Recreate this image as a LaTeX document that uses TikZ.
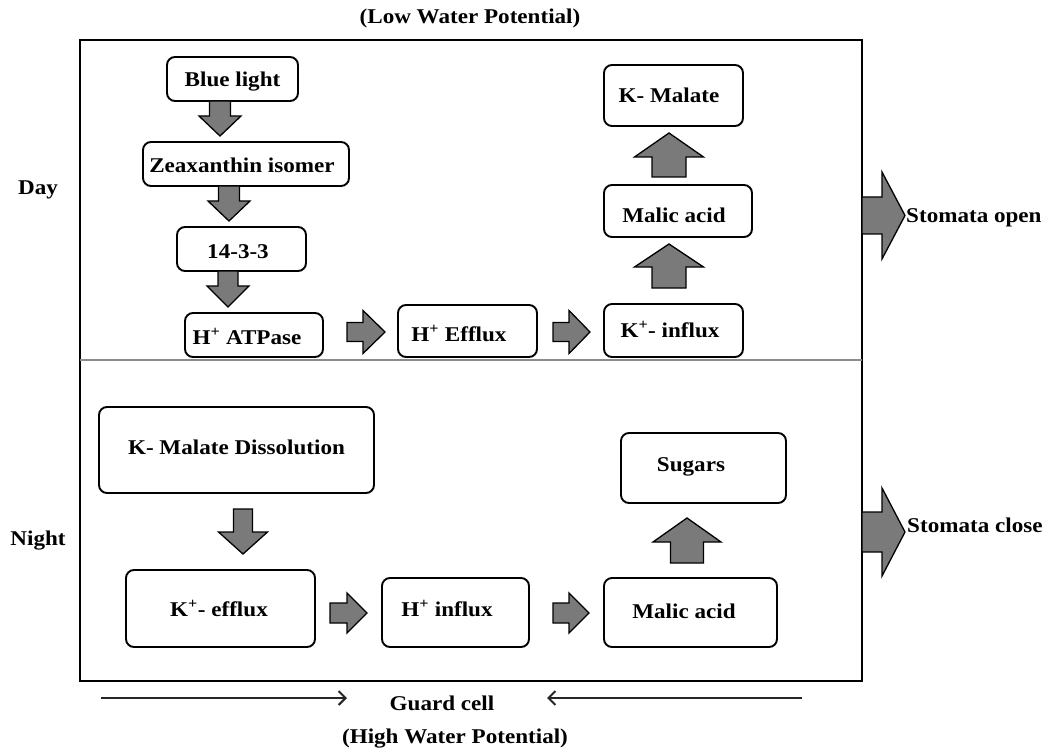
\documentclass[tikz,border=0pt]{standalone}
\usepackage{fontspec}
\setmainfont{Liberation Serif}[FakeStretch=1.1]
\usetikzlibrary{arrows.meta}
\definecolor{arrowgray}{HTML}{7A7A7A}
\definecolor{divgray}{HTML}{8C8C8C}
\newcommand\barrow[7]{% name, start, angle, length, shaft, head, headlen
  \draw[blockarrow, shift={#2}, rotate=#3] (0,-#5/2) -- ({#4-#7},-#5/2) -- ({#4-#7},-#6/2) -- (#4,0) -- ({#4-#7},#6/2) -- ({#4-#7},#5/2) -- (0,#5/2) -- cycle;
  \coordinate (#1) at #2;}
\begin{document}
\begin{tikzpicture}[x=1pt,y=-1pt,
  every node/.style={font=\fontsize{21}{24}\selectfont\bfseries},
  box/.style={draw, line width=1.9pt, rounded corners=8pt, inner sep=0pt, fill=white, text depth=0pt},
  blockarrow/.style={draw=black, line width=1.3pt, fill=arrowgray, line join=miter},
  lbl/.style={inner sep=0pt},
  thinarrow/.style={line width=2.2pt, draw=black!85, -{Straight Barb[length=7pt,width=14pt,line width=2pt]}}]
\useasboundingbox (0,0) rectangle (1051,751);
% frame
\draw[line width=2pt] (80,40) rectangle (862,681);
\draw[divgray, line width=1.4pt] (80,360) -- (862,360);
% day boxes
\node[box, minimum width=131pt, minimum height=44pt, text height=16pt] (blue) at (232.5,79) {Blue light};
\node[box, minimum width=206pt, minimum height=44pt, text height=18pt] (zea) at (246,164) {Zeaxanthin isomer\kern8pt};
\node[box, minimum width=129pt, minimum height=44pt, text height=19pt] (f) at (241.5,249) {14-3-3\kern7pt};
\node[box, minimum width=138pt, minimum height=44pt, text height=18pt] (atp) at (254,335) {H\textsuperscript{+} ATPase\kern14pt};
\node[box, minimum width=139pt, minimum height=52pt, text height=21pt] (eff) at (467.5,331) {H\textsuperscript{+} Efflux\kern17pt};
\node[box, minimum width=139pt, minimum height=53pt, text height=14pt] (kin) at (673.5,330.5) {K\textsuperscript{+}- influx\kern7pt};
\node[box, minimum width=148pt, minimum height=52pt, text height=23pt] (mal1) at (678,211) {Malic acid\kern8pt};
\node[box, minimum width=139pt, minimum height=61pt, text height=15pt] (kmal) at (673.5,95.5) {K- Malate\kern9pt};
% night boxes
\node[box, minimum width=275pt, minimum height=86pt, text height=8pt] (kmd) at (236.5,450) {K- Malate Dissolution};
\node[box, minimum width=189pt, minimum height=77pt, text height=15pt] (kef) at (220.5,608.5) {K\textsuperscript{+}- efflux\kern3pt};
\node[box, minimum width=147pt, minimum height=69pt, text height=8pt] (hin) at (455.5,612.5) {H\textsuperscript{+} influx\kern17pt};
\node[box, minimum width=173pt, minimum height=69pt, text height=11pt] (mal2) at (690.5,612.5) {Malic acid\kern13pt};
\node[box, minimum width=165pt, minimum height=70pt, text height=6pt] (sug) at (703.5,468) {Sugars\kern25pt};
% block arrows
\barrow{a1}{(220,101)}{-90}{35}{21}{42}{20}
\barrow{a2}{(229,186)}{-90}{35}{21}{42}{20}
\barrow{a3}{(228,271)}{-90}{36}{20}{42}{21}
\barrow{a4}{(347,332)}{0}{38}{19}{43}{22}
\barrow{a5}{(553,332)}{0}{37}{19}{43}{21}
\barrow{a6}{(669,288)}{90}{44}{34}{69}{23}
\barrow{a7}{(669,177)}{90}{44}{34}{69}{24}
\barrow{a8}{(862,215.5)}{0}{43}{37}{87}{23}
\barrow{b1}{(243,509)}{-90}{45}{19}{49}{22}
\barrow{b2}{(330,613)}{0}{37}{20}{40}{20}
\barrow{b3}{(553,613)}{0}{36}{20}{40}{20}
\barrow{b4}{(687,563)}{90}{45}{33}{68}{24}
\barrow{b5}{(862,532)}{0}{43}{40}{88}{23}
% labels
\node[lbl] (low) at (470,18) {(Low Water Potential)};
\node[lbl] (day) at (38,190) {Day};
\node[lbl] (night) at (38,541) {Night};
\node[lbl, anchor=west] (sopen) at (906,218) {Stomata open};
\node[lbl, anchor=west] (sclose) at (907,525) {Stomata close};
\node[lbl] (guard) at (442,703) {Guard cell};
\node[lbl] (high) at (455,739) {(High Water Potential)};
% guard cell arrows
\coordinate (l1) at (101,698);
\coordinate (l2) at (347,698);
\coordinate (r1) at (802,698);
\coordinate (r2) at (547,698);
\draw[thinarrow] (l1) -- (l2);
\draw[thinarrow] (r1) -- (r2);
\end{tikzpicture}
\end{document}
